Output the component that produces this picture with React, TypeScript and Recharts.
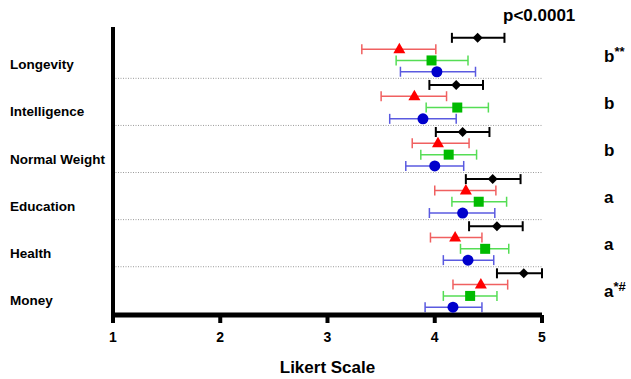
import React from 'react';
import {
  ScatterChart,
  Scatter,
  XAxis,
  YAxis,
  ErrorBar,
  ReferenceLine,
} from 'recharts';

/* ---------------------------------------
   DATA
---------------------------------------- */
const categories = ['Longevity', 'Intelligence', 'Normal Weight', 'Education', 'Health', 'Money'];

const blackMean = [4.4, 4.2, 4.26, 4.54, 4.58, 4.83];
const blackLow = [4.16, 3.95, 4.01, 4.29, 4.32, 4.58];
const blackHigh = [4.65, 4.45, 4.51, 4.8, 4.82, 5.0];

const redMean = [3.67, 3.81, 4.03, 4.29, 4.19, 4.43];
const redLow = [3.32, 3.5, 3.79, 4.0, 3.96, 4.17];
const redHigh = [4.01, 4.11, 4.32, 4.57, 4.44, 4.68];

const greenMean = [3.97, 4.21, 4.13, 4.41, 4.47, 4.33];
const greenLow = [3.64, 3.92, 3.87, 4.16, 4.24, 4.08];
const greenHigh = [4.31, 4.5, 4.39, 4.67, 4.69, 4.58];

const blueMean = [4.02, 3.89, 4.0, 4.26, 4.31, 4.17];
const blueLow = [3.68, 3.58, 3.73, 3.95, 4.08, 3.91];
const blueHigh = [4.38, 4.2, 4.27, 4.56, 4.55, 4.44];

const xTicks = [1, 2, 3, 4, 5];
const groupLetters = ['b', 'b', 'b', 'a', 'a', 'a'];
const groupMarks = ['**', '', '', '', '', '*#'];
const pValue = 'p<0.0001';

/* ---------------------------------------
   HELPERS
---------------------------------------- */
const FONT = '"Liberation Sans", Arial, Helvetica, sans-serif';

// each category occupies one unit band on the y axis; series sit at fixed offsets
const buildRows = (mean: number[], low: number[], high: number[], offset: number) =>
  categories.map((name, i) => ({
    name,
    x: mean[i],
    y: i + 0.5 + offset,
    err: [mean[i] - low[i], high[i] - mean[i]],
  }));

const blackRows = buildRows(blackMean, blackLow, blackHigh, -0.36);
const redRows = buildRows(redMean, redLow, redHigh, -0.12);
const greenRows = buildRows(greenMean, greenLow, greenHigh, 0.12);
const blueRows = buildRows(blueMean, blueLow, blueHigh, 0.36);

const bandTicks = categories.map((_, i) => i + 0.5);
const separators = categories.slice(1).map((_, i) => i + 1);

/* ---------------------------------------
   MARKER SHAPES
---------------------------------------- */
const Diamond = (p: any) => (
  <polygon
    points={`${p.cx},${p.cy - 5} ${p.cx + 5},${p.cy} ${p.cx},${p.cy + 5} ${p.cx - 5},${p.cy}`}
    fill="#000000"
  />
);
const Triangle = (p: any) => (
  <polygon
    points={`${p.cx},${p.cy - 6.5} ${p.cx + 6},${p.cy + 4} ${p.cx - 6},${p.cy + 4}`}
    fill="#ff0000"
  />
);
const Square = (p: any) => (
  <rect x={p.cx - 5} y={p.cy - 5} width={10} height={10} fill="#00bb00" />
);
const Dot = (p: any) => <circle cx={p.cx} cy={p.cy} r={5.5} fill="#0000cc" />;

/* ---------------------------------------
   AXIS TICKS
---------------------------------------- */
const CategoryTick = (props: any) => {
  const { y, payload } = props;
  const name = categories[Math.floor(payload.value)];
  return (
    <text x={10} y={y + 11} dominantBaseline="middle" fontFamily={FONT} fontSize={13.5} fontWeight="bold" fill="#000">
      {name}
    </text>
  );
};

const LetterTick = (props: any) => {
  const { y, payload } = props;
  const i = Math.floor(payload.value);
  return (
    <text x={604} y={y + 7} fontFamily={FONT} fontSize={17} fontWeight="bold" fill="#000">
      {groupLetters[i]}
      {groupMarks[i] && (
        <tspan fontSize={13} dy={-6}>
          {groupMarks[i]}
        </tspan>
      )}
    </text>
  );
};

/* ---------------------------------------
   MAIN COMPONENT
---------------------------------------- */
export default function App() {
  return (
    <div style={{ position: 'absolute', left: 0, top: 0, width: 631, height: 379, background: '#fff' }}>
      <ScatterChart width={631} height={379} margin={{ top: 27, right: 9, bottom: 4, left: 13 }}>
        <XAxis
          type="number"
          dataKey="x"
          domain={[1, 5]}
          ticks={xTicks}
          allowDataOverflow
          axisLine={{ stroke: '#000', strokeWidth: 5 }}
          tickLine={{ stroke: '#000', strokeWidth: 4 }}
          tickSize={8}
          tickMargin={9}
          tick={{ fill: '#000', fontSize: 14, fontWeight: 'bold', fontFamily: FONT }}
          height={60}
          label={{
            value: 'Likert Scale',
            position: 'insideBottom',
            offset: 2,
            style: { fill: '#000', fontSize: 17, fontWeight: 'bold', fontFamily: FONT },
          }}
        />
        <YAxis
          type="number"
          dataKey="y"
          domain={[-0.09, 6.025]}
          reversed
          allowDataOverflow
          ticks={bandTicks}
          tick={<CategoryTick />}
          tickLine={false}
          axisLine={{ stroke: '#000', strokeWidth: 4 }}
          width={100}
        />
        <YAxis
          yAxisId="right"
          orientation="right"
          type="number"
          domain={[-0.09, 6.025]}
          reversed
          allowDataOverflow
          ticks={bandTicks}
          tick={<LetterTick />}
          tickLine={false}
          axisLine={false}
          width={80}
        />

        {separators.map((v) => (
          <ReferenceLine key={v} y={v} stroke="#9a9a9a" strokeDasharray="1 1.5" strokeWidth={1} />
        ))}

        <Scatter data={blueRows} shape={<Dot />} isAnimationActive={false}>
          <ErrorBar dataKey="err" direction="x" width={5} stroke="#5a5ae0" strokeWidth={1.5} />
        </Scatter>
        <Scatter data={greenRows} shape={<Square />} isAnimationActive={false}>
          <ErrorBar dataKey="err" direction="x" width={5} stroke="#55dd55" strokeWidth={1.5} />
        </Scatter>
        <Scatter data={redRows} shape={<Triangle />} isAnimationActive={false}>
          <ErrorBar dataKey="err" direction="x" width={5} stroke="#f06060" strokeWidth={1.5} />
        </Scatter>
        <Scatter data={blackRows} shape={<Diamond />} isAnimationActive={false}>
          <ErrorBar dataKey="err" direction="x" width={5} stroke="#000" strokeWidth={2} />
        </Scatter>
      </ScatterChart>

      <div
        style={{
          position: 'absolute',
          left: 503,
          top: 6,
          fontFamily: FONT,
          fontSize: 17,
          fontWeight: 'bold',
          lineHeight: '20px',
          color: '#000',
        }}
      >
        {pValue}
      </div>
    </div>
  );
}
